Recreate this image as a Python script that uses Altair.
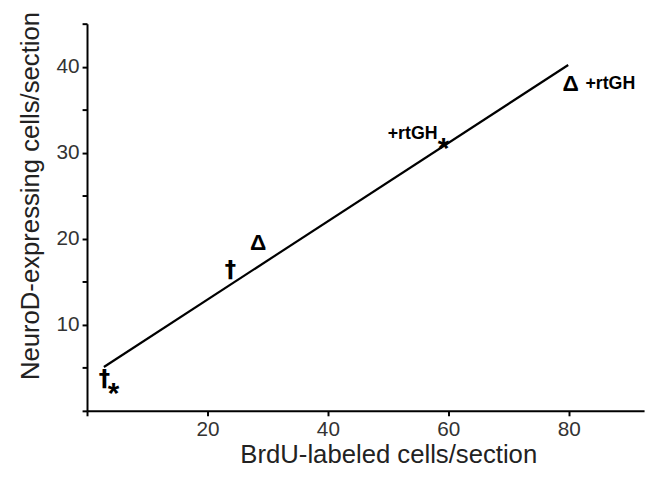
import altair as alt
import pandas as pd

# Data points
sym = ["†", "*", "†", "Δ", "*", "Δ"]
px = [2.9, 4.4, 23.8, 28.4, 59.2, 80.3]
py = [3.9, 2.8, 16.6, 19.5, 31.2, 38.0]

# regression line end points
line_x = [2.8, 79.9]
line_y = [5.1, 40.2]

# annotations
ann_text = ["+rtGH", "+rtGH"]
ann_x = [59.2, 80.3]
ann_y = [31.2, 38.0]
ann_side = ["left", "right"]

pts = pd.DataFrame({"x": px, "y": py, "s": sym})
ln = pd.DataFrame({"x": line_x, "y": line_y})
ann = pd.DataFrame({"x": ann_x, "y": ann_y, "t": ann_text, "side": ann_side})

FONT = "Liberation Sans"

xs = alt.Scale(domain=[0, 92.5], nice=False, zero=False)
ys = alt.Scale(domain=[0, 45], nice=False, zero=False)

xaxis = alt.Axis(
    title="BrdU-labeled cells/section",
    values=[0, 20, 40, 60, 80],
    labelExpr="datum.value > 0 ? datum.label : ''",
    grid=False, domainColor="black", domainWidth=2, tickColor="black",
    tickWidth=2, tickSize=5, labelFont=FONT, labelFontSize=21,
    labelColor="#333", labelPadding=3, titleFont=FONT, titleFontSize=26,
    titleFontWeight="normal", titleColor="#222", titlePadding=2, titleX=305,
)
yaxis = alt.Axis(
    title="NeuroD-expressing cells/section",
    values=[0, 5, 10, 15, 20, 25, 30, 35, 40, 45],
    labelExpr="(datum.value % 10 == 0 && datum.value > 0) ? datum.label : ''",
    grid=False, domainColor="black", domainWidth=2, tickColor="black",
    tickWidth=2, tickSize=5, labelFont=FONT, labelFontSize=21,
    labelColor="#333", labelPadding=3, titleFont=FONT, titleFontSize=26,
    titleFontWeight="normal", titleColor="#222", titlePadding=13, titleY=174,
)

line = alt.Chart(ln).mark_line(color="black", strokeWidth=2.2).encode(
    x=alt.X("x:Q", scale=xs, axis=xaxis),
    y=alt.Y("y:Q", scale=ys, axis=yaxis),
)

dag = alt.Chart(pts).transform_filter("datum.s == '†'").mark_text(
    font="DejaVu Sans", fontSize=23, fontWeight="bold", color="black", baseline="middle", dy=2
).encode(x=alt.X("x:Q", scale=xs), y=alt.Y("y:Q", scale=ys), text="s:N")

star = alt.Chart(pts).transform_filter("datum.s == '*'").mark_text(
    font=FONT, fontSize=30, fontWeight="bold", color="black", baseline="middle", dy=7
).encode(x=alt.X("x:Q", scale=xs), y=alt.Y("y:Q", scale=ys), text="s:N")

delta = alt.Chart(pts).transform_filter("datum.s == 'Δ'").mark_text(
    font=FONT, fontSize=23, fontWeight="bold", color="black", baseline="middle"
).encode(x=alt.X("x:Q", scale=xs), y=alt.Y("y:Q", scale=ys), text="s:N")

ann_l = alt.Chart(ann).transform_filter("datum.side == 'left'").mark_text(
    font=FONT, fontSize=18, fontWeight="bold", color="black", align="right",
    baseline="middle", dx=-6, dy=-8
).encode(x=alt.X("x:Q", scale=xs), y=alt.Y("y:Q", scale=ys), text="t:N")

ann_r = alt.Chart(ann).transform_filter("datum.side == 'right'").mark_text(
    font=FONT, fontSize=18, fontWeight="bold", color="black", align="left",
    baseline="middle", dx=15, dy=0
).encode(x=alt.X("x:Q", scale=xs), y=alt.Y("y:Q", scale=ys), text="t:N")

chart = alt.layer(line, dag, star, delta, ann_l, ann_r).properties(
    width=564, height=392,
    autosize=alt.AutoSizeParams(type="none"),
    padding={"left": 80, "top": 13, "right": 6, "bottom": 57},
    background="white",
).configure_view(stroke=None)

chart.save("out.html", embed_options={"renderer": "svg", "actions": False})
